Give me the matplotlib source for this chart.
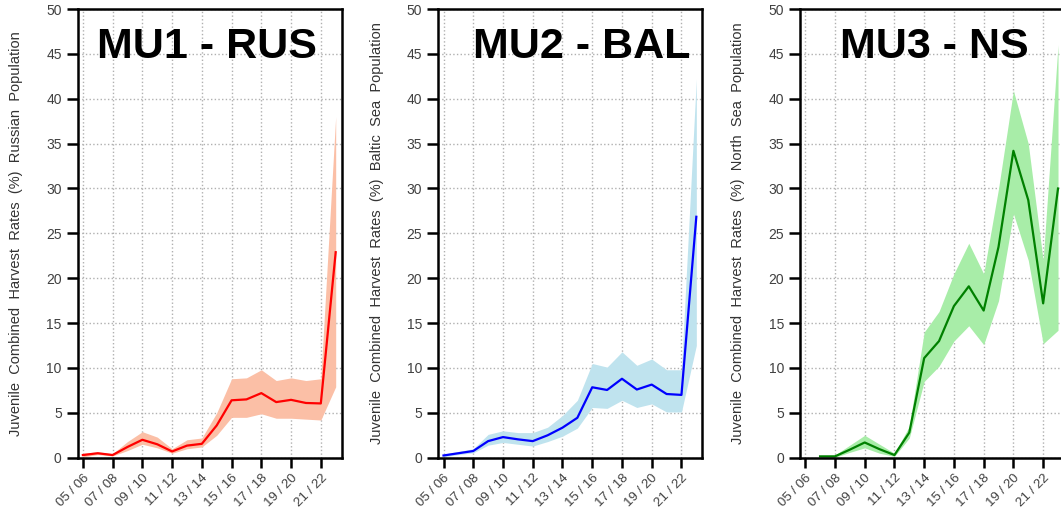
import numpy as np
import matplotlib
matplotlib.use("Agg")
import matplotlib.pyplot as plt

plt.rcParams['font.family'] = ['Liberation Sans', 'DejaVu Sans']

seasons = ["05 / 06", "06 / 07", "07 / 08", "08 / 09", "09 / 10", "10 / 11", "11 / 12",
           "12 / 13", "13 / 14", "14 / 15", "15 / 16", "16 / 17", "17 / 18", "18 / 19",
           "19 / 20", "20 / 21", "21 / 22", "22 / 23"]

titles = ["MU1 - RUS", "MU2 - BAL", "MU3 - NS"]
populations = ["Russian", "Baltic Sea", "North Sea"]

# MU1 - Russian population
rus_mid = [0.3, 0.5, 0.3, 1.2, 2.0, 1.5, 0.7, 1.35, 1.55, 3.6, 6.4, 6.5, 7.2, 6.2, 6.45, 6.1, 6.05, 22.9]
rus_hi = [0.5, 0.65, 0.45, 1.8, 2.9, 2.3, 1.0, 2.0, 2.2, 5.0, 8.8, 8.9, 9.8, 8.6, 8.9, 8.6, 8.8, 38.0]
rus_lo = [0.1, 0.35, 0.2, 0.8, 1.5, 1.1, 0.5, 1.0, 1.2, 2.5, 4.5, 4.5, 4.9, 4.4, 4.4, 4.3, 4.2, 7.9]

# MU2 - Baltic Sea population
bal_mid = [0.25, 0.5, 0.75, 1.85, 2.3, 2.05, 1.85, 2.5, 3.35, 4.45, 7.85, 7.55, 8.8, 7.6, 8.15, 7.1, 7.0, 26.85]
bal_hi = [0.4, 0.7, 1.0, 2.6, 3.0, 2.8, 2.8, 3.4, 4.7, 6.4, 10.5, 10.1, 11.8, 10.3, 11.0, 9.8, 9.8, 42.2]
bal_lo = [0.1, 0.35, 0.55, 1.4, 1.7, 1.5, 1.3, 1.8, 2.4, 3.3, 5.6, 5.5, 6.4, 5.6, 6.0, 5.1, 5.1, 12.5]

# MU3 - North Sea population (no estimate for 05/06)
ns_mid = [np.nan, 0.15, 0.15, 0.9, 1.7, 0.95, 0.3, 2.8, 11.1, 13.0, 16.9, 19.1, 16.4, 23.5, 34.2, 28.7, 17.2, 30.0]
ns_hi = [np.nan, 0.25, 0.3, 1.4, 2.5, 1.5, 0.5, 3.5, 14.0, 16.3, 20.5, 23.9, 20.5, 30.0, 40.9, 35.0, 22.0, 46.0]
ns_lo = [np.nan, 0.05, 0.05, 0.6, 1.1, 0.5, 0.15, 2.2, 8.5, 10.2, 13.0, 14.7, 12.6, 17.5, 27.2, 22.0, 12.7, 14.2]

line_colors = ["#ff0000", "#0000ff", "#008000"]
band_colors = ["#fbbfa6", "#bfe3ee", "#a8eda8"]
title_x = [0.49, 0.545, 0.51]
ax_left = [0.0732, 0.4131, 0.754]


def draw_panel(ax, mid, lo, hi, k):
    x = np.arange(len(seasons))
    ax.fill_between(x, lo, hi, color=band_colors[k], linewidth=0)
    ax.plot(x, mid, color=line_colors[k], linewidth=1.6)

    ax.set_xlim(-0.35, 17.4)
    ax.set_ylim(0, 50)
    ax.set_yticks(np.arange(0, 51, 5))
    ax.set_xticks(x[::2])
    ax.set_xticklabels(seasons[::2], rotation=45, ha='right', rotation_mode='anchor',
                       fontsize=9.5, color='#404040')
    ax.tick_params(axis='y', labelsize=10, labelcolor='#404040', length=8, width=1.8)
    ax.tick_params(axis='x', length=7, width=1.8, pad=3)
    for s in ax.spines.values():
        s.set_linewidth(1.8)
    ax.grid(True, linestyle=':', color='#b0b0b0', linewidth=1)
    ax.set_axisbelow(True)

    label = "Juvenile  Combined  Harvest  Rates  (%)  " + populations[k].replace(" ", "  ") + "  Population"
    ax.set_ylabel(label, fontsize=10.5, color='#333333')
    ax.yaxis.set_label_coords(-0.207, 0.5)
    ax.text(title_x[k], 0.915, titles[k], transform=ax.transAxes, ha='center', va='center',
            fontsize=31, fontweight='bold', color='black')


def main():
    fig = plt.figure(figsize=(10.61, 5.12), dpi=100)
    data = [(rus_mid, rus_lo, rus_hi), (bal_mid, bal_lo, bal_hi), (ns_mid, ns_lo, ns_hi)]
    for k, (mid, lo, hi) in enumerate(data):
        ax = fig.add_axes([ax_left[k], 0.106, 0.2488, 0.8764])
        draw_panel(ax, mid, lo, hi, k)
    fig.savefig("out.png", dpi=100)


if __name__ == "__main__":
    main()
